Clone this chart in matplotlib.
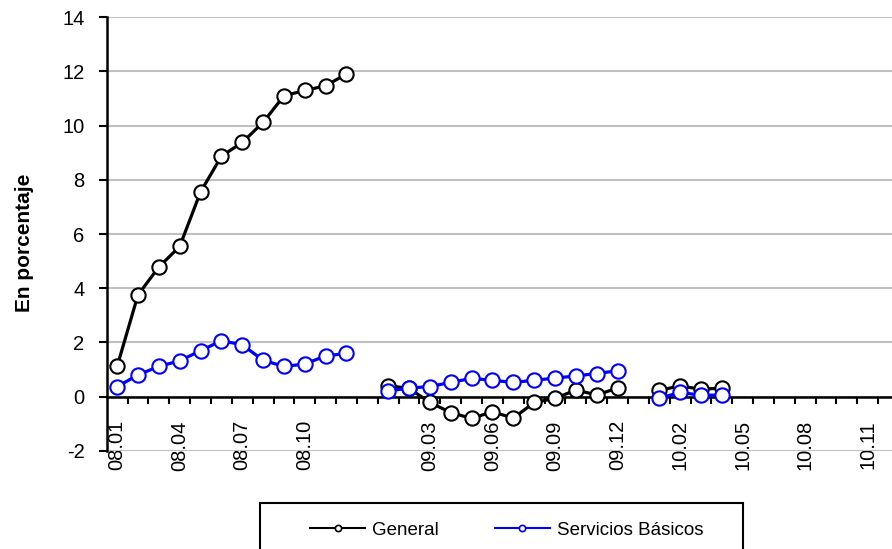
import numpy as np
import matplotlib
matplotlib.use("Agg")
import matplotlib.pyplot as plt
from matplotlib.lines import Line2D
from matplotlib.patches import Rectangle

plt.rcParams['font.family'] = ['Liberation Sans', 'DejaVu Sans']

# ---- data ----
months_2008 = ['08.%02d' % m for m in range(1, 13)]
months_2009 = ['09.%02d' % m for m in range(1, 13)]
months_2010 = ['10.%02d' % m for m in range(1, 13)]
categories = months_2008 + [''] + months_2009 + [''] + months_2010

nan = np.nan
general_2008 = [1.11, 3.75, 4.78, 5.54, 7.55, 8.87, 9.38, 10.12, 11.10, 11.30, 11.47, 11.91]
general_2009 = [0.40, 0.30, -0.22, -0.59, -0.81, -0.56, -0.80, -0.22, -0.07, 0.24, 0.06, 0.31]
general_2010 = [0.23, 0.39, 0.27, 0.31, nan, nan, nan, nan, nan, nan, nan, nan]

basicos_2008 = [0.36, 0.80, 1.11, 1.32, 1.69, 2.06, 1.91, 1.34, 1.11, 1.20, 1.50, 1.59]
basicos_2009 = [0.21, 0.31, 0.37, 0.52, 0.67, 0.60, 0.52, 0.60, 0.68, 0.76, 0.85, 0.95]
basicos_2010 = [-0.06, 0.15, 0.05, 0.05, nan, nan, nan, nan, nan, nan, nan, nan]

general = general_2008 + [nan] + general_2009 + [nan] + general_2010
basicos = basicos_2008 + [nan] + basicos_2009 + [nan] + basicos_2010

series_names = ['General', 'Servicios Básicos']
y_ticks = list(range(-2, 15, 2))

# ---- figure ----
W, H = 892, 549
fig = plt.figure(figsize=(W / 100, H / 100), dpi=100)
n = len(categories)
step = 20.85
left_px, top_px, bottom_px = 106.7, 17.3, 450.7
ax = fig.add_axes([left_px / W, (H - bottom_px) / H, n * step / W, (bottom_px - top_px) / H])

for s in ['top', 'right']:
    ax.spines[s].set_visible(False)
ax.spines['left'].set_linewidth(1.8)
ax.spines['bottom'].set_linewidth(1.8)
ax.spines['bottom'].set_position(('data', 0))
ax.spines['bottom'].set_zorder(2.5)

x = np.arange(n)
ax.plot(x, general, color='black', lw=2.3, marker='o', ms=10.3, mfc='white',
        mec='black', mew=1.5, zorder=3, clip_on=False)
ax.plot(x, basicos, color='#0000FF', lw=2.3, marker='o', ms=10.3, mfc='white',
        mec='#0000FF', mew=1.5, zorder=4, clip_on=False)

ax.set_xlim(-0.5, n - 0.5)
ax.set_ylim(-2, 14)
ax.set_yticks(y_ticks)
ax.set_yticklabels([str(v) for v in y_ticks])
ax.yaxis.grid(True, color='#c0c0c0', lw=1.5)
ax.set_axisbelow(True)

tick_idx = list(range(0, n, 3))
ax.set_xticks(tick_idx)
ax.set_xticklabels([categories[i] for i in tick_idx], rotation=90, va='top', ha='center')
ax.set_xticks(np.arange(0.5, n, 1.0), minor=True)
ax.tick_params(axis='x', which='major', length=0, pad=17, labelsize=14.5)
ax.tick_params(axis='x', which='minor', length=5, width=1.5, direction='out', color='black')
ax.tick_params(axis='y', which='major', length=6, width=1.5, direction='out', pad=10, labelsize=14.5)

fig.text(24 / W, 1 - 243 / H, 'En porcentaje', rotation=90, ha='center', va='center',
         fontsize=15, fontweight='bold')

# legend
rect = Rectangle((260 / W, 1 - 560 / H), (742.7 - 260) / W, (560 - 503.3) / H,
                 transform=fig.transFigure, fill=False, edgecolor='black', lw=1.5)
fig.patches.append(rect)
handles = [
    Line2D([], [], color='black', lw=1.5, marker='o', ms=4.5, mfc='white', mec='black', mew=1.2),
    Line2D([], [], color='#0000FF', lw=1.5, marker='o', ms=4.5, mfc='white', mec='#0000FF', mew=1.2),
]
fig.legend(handles, series_names, loc='center', bbox_to_anchor=(507 / W, 1 - 530 / H),
           ncol=2, frameon=False, fontsize=13.5, handlelength=2.9, handletextpad=0.4,
           columnspacing=3.0)

fig.savefig('out.png', dpi=100)
